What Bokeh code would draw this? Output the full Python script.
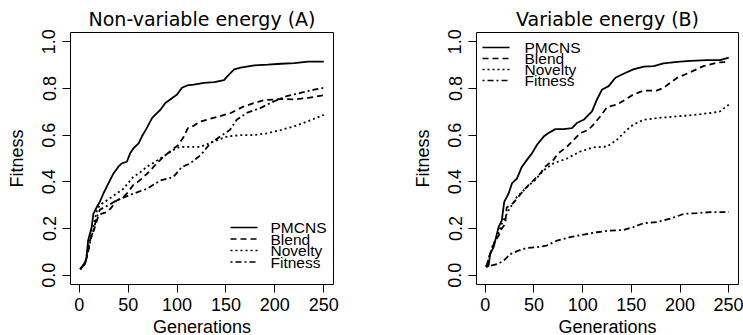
from bokeh.plotting import figure
from bokeh.layouts import row
from bokeh.models import FixedTicker, PrintfTickFormatter, Range1d, Arrow, Label
from bokeh.embed import file_html
from bokeh.resources import INLINE

# ---------------- data: panel A (non-variable energy) ----------------
a_pmcns_x = [1, 6, 7.5, 9, 12.7, 14.4, 18, 21, 24.7, 28, 31.5, 35, 40, 43.5, 48.7, 52, 55.5, 60.7, 64, 69,
             74.4, 77.8, 83, 88, 93, 100, 105, 110.4, 117, 127.6, 138, 148, 151.6, 158.4, 165, 179, 192.7,
             206.4, 220, 234, 250]
a_pmcns_y = [0.026, 0.055, 0.076, 0.148, 0.206, 0.263, 0.292, 0.314, 0.35, 0.378, 0.407, 0.436, 0.465, 0.479,
             0.486, 0.522, 0.544, 0.565, 0.594, 0.63, 0.673, 0.688, 0.709, 0.738, 0.753, 0.774, 0.803, 0.813,
             0.817, 0.824, 0.827, 0.836, 0.853, 0.882, 0.889, 0.899, 0.902, 0.906, 0.909, 0.915, 0.915]

a_blend_x = [1, 6, 9, 11, 14, 17, 20, 24, 28, 33, 38, 44, 50, 55, 60, 65.6, 70.7, 79, 86, 94.6, 101, 107, 111,
             117, 124, 141, 155, 167, 179, 189, 206, 220, 234, 250]
a_blend_y = [0.026, 0.05, 0.1, 0.15, 0.18, 0.22, 0.26, 0.265, 0.27, 0.29, 0.32, 0.33, 0.356, 0.385, 0.4, 0.42,
             0.44, 0.478, 0.507, 0.536, 0.557, 0.594, 0.63, 0.64, 0.659, 0.678, 0.695, 0.721, 0.738, 0.75,
             0.755, 0.753, 0.76, 0.771]

a_novelty_x = [1, 6, 9, 12, 15, 18, 21, 28, 38, 45, 55, 62, 69, 83, 96, 103, 110, 124, 137, 151, 165, 178,
               192, 206, 219, 233, 250]
a_novelty_y = [0.026, 0.05, 0.12, 0.18, 0.22, 0.278, 0.3, 0.32, 0.349, 0.37, 0.42, 0.44, 0.464, 0.5, 0.536,
               0.55, 0.55, 0.55, 0.572, 0.594, 0.6, 0.6, 0.608, 0.622, 0.637, 0.658, 0.687]

a_fitness_x = [1, 6, 9, 12, 15, 18, 21, 25, 30, 38, 55, 69, 83, 96, 105, 113, 124, 134, 144, 154, 161, 171,
               185, 199, 212, 226, 240, 250]
a_fitness_y = [0.026, 0.05, 0.1, 0.16, 0.2, 0.25, 0.28, 0.29, 0.3, 0.32, 0.349, 0.37, 0.406, 0.42, 0.464,
               0.478, 0.514, 0.565, 0.594, 0.622, 0.666, 0.695, 0.716, 0.745, 0.767, 0.781, 0.795, 0.803]

# ---------------- data: panel B (variable energy) ----------------
b_pmcns_x = [1, 3.4, 5, 8.6, 12, 13.7, 17, 19.5, 24, 27.4, 32.5, 37.7, 42.8, 48, 53, 60, 65, 72, 80.5, 89, 94,
             101, 109.6, 114.7, 120, 126.7, 133.6, 142, 152, 162.7, 173, 183, 197, 210.6, 227.7, 241, 250]
b_pmcns_y = [0.036, 0.04, 0.09, 0.12, 0.177, 0.206, 0.235, 0.314, 0.35, 0.393, 0.414, 0.465, 0.494, 0.522,
             0.558, 0.594, 0.609, 0.626, 0.626, 0.63, 0.652, 0.666, 0.702, 0.753, 0.796, 0.81, 0.846, 0.863,
             0.882, 0.894, 0.896, 0.908, 0.914, 0.918, 0.922, 0.922, 0.932]

b_blend_x = [1, 5, 10, 14, 17, 20.5, 22, 29, 32.5, 41, 48, 56.5, 61.6, 70, 75, 84, 90.8, 97.6, 106, 111, 118,
             125, 135, 144, 152, 162.7, 176, 183, 197, 210.6, 224, 238, 250]
b_blend_y = [0.036, 0.09, 0.148, 0.17, 0.2, 0.22, 0.29, 0.31, 0.328, 0.371, 0.4, 0.436, 0.465, 0.494, 0.522,
             0.551, 0.58, 0.609, 0.623, 0.645, 0.68, 0.72, 0.731, 0.753, 0.774, 0.791, 0.791, 0.803, 0.846,
             0.87, 0.896, 0.911, 0.914]

b_novelty_x = [1, 7, 12, 17, 24, 32.5, 43, 51, 60, 70, 84, 97.6, 111, 125, 135, 145.5, 152, 162.7, 176, 190,
               204, 217, 231, 241, 250]
b_novelty_y = [0.036, 0.12, 0.163, 0.22, 0.278, 0.335, 0.378, 0.407, 0.45, 0.479, 0.5, 0.53, 0.548, 0.551,
               0.58, 0.623, 0.645, 0.666, 0.673, 0.678, 0.683, 0.688, 0.695, 0.702, 0.731]

b_fitness_x = [1, 5, 12, 19, 25.7, 34, 43, 53, 63, 73.6, 87, 101, 114.7, 128, 142, 152, 162.7, 176, 190, 204,
               217, 231, 250]
b_fitness_y = [0.036, 0.04, 0.047, 0.062, 0.09, 0.105, 0.117, 0.12, 0.127, 0.148, 0.163, 0.174, 0.184, 0.191,
               0.194, 0.206, 0.223, 0.227, 0.242, 0.263, 0.266, 0.27, 0.27]

series_names = ["PMCNS", "Blend", "Novelty", "Fitness"]
x_ticks = [0, 50, 100, 150, 200, 250]
y_ticks = [0.0, 0.2, 0.4, 0.6, 0.8, 1.0]

DASHES = {"PMCNS": "solid", "Blend": "6 4", "Novelty": "2 3", "Fitness": "2 3 6 3"}
LABEL_FONT = "Liberation Sans"

X_LO, X_HI = 1 - 0.04 * 249, 250 + 0.04 * 249
Y_LO, Y_HI = -0.04, 1.04
FRAME_H = 252


def make_panel(title, data, width, border_left, border_right, leg_px):
    frame_w = width - border_left - border_right
    p = figure(width=width, height=335, output_backend="svg", toolbar_location=None,
               x_range=Range1d(X_LO, X_HI), y_range=Range1d(Y_LO, Y_HI),
               min_border_left=border_left, min_border_right=border_right,
               min_border_top=32, min_border_bottom=51,
               frame_width=frame_w, frame_height=FRAME_H)
    p.title.text = title
    p.title.text_font = "DejaVu Sans"
    p.title.text_font_size = "19px"
    p.title.text_font_style = "normal"
    p.title.text_color = "black"
    p.title.align = "center"
    p.title.standoff = 5
    p.outline_line_color = "black"
    p.outline_line_width = 1
    p.grid.visible = False
    p.background_fill_color = "white"
    p.border_fill_color = "white"

    for ax in (p.xaxis[0], p.yaxis[0]):
        ax.axis_line_color = None
        ax.major_tick_line_color = "black"
        ax.minor_tick_line_color = None
        ax.major_tick_in = 0
        ax.major_tick_out = 8
        ax.major_label_text_font = LABEL_FONT
        ax.major_label_text_font_size = "18px"
        ax.major_label_text_color = "black"
        ax.axis_label_text_font = LABEL_FONT
        ax.axis_label_text_font_size = "18px"
        ax.axis_label_text_font_style = "normal"
        ax.axis_label_text_color = "black"

    p.xaxis.ticker = FixedTicker(ticks=x_ticks)
    p.yaxis.ticker = FixedTicker(ticks=y_ticks)
    p.yaxis.formatter = PrintfTickFormatter(format="%.1f")
    p.yaxis.major_label_orientation = "vertical"
    p.xaxis.axis_label = "Generations"
    p.yaxis.axis_label = "Fitness"
    p.xaxis.major_label_standoff = 5
    p.xaxis.axis_label_standoff = 3
    p.yaxis.major_label_standoff = 7
    p.yaxis.axis_label_standoff = 13

    for name, (xs, ys) in zip(series_names, data):
        p.line(xs, ys, line_color="black", line_width=1.8, line_dash=DASHES[name])

    # compact R-style legend; position given in pixels from the frame's top-left
    gx = (X_HI - X_LO) / frame_w   # data units per pixel (x)
    gy = (Y_HI - Y_LO) / FRAME_H   # data units per pixel (y)
    left, top, line_len, gap, row_h = leg_px
    for i, name in enumerate(series_names):
        yy = Y_HI - (top + i * row_h) * gy
        x0 = X_LO + left * gx
        x1 = X_LO + (left + line_len) * gx
        p.add_layout(Arrow(start=None, end=None, x_start=x0, y_start=yy, x_end=x1, y_end=yy,
                           line_color="black", line_width=1.4, line_dash=DASHES[name]))
        p.add_layout(Label(x=X_LO + (left + line_len + gap) * gx, y=yy, text=name,
                           text_font=LABEL_FONT, text_font_size="15.5px", text_color="black",
                           text_baseline="middle", text_align="left"))
    return p


p1 = make_panel("Non-variable energy (A)",
                [(a_pmcns_x, a_pmcns_y), (a_blend_x, a_blend_y), (a_novelty_x, a_novelty_y),
                 (a_fitness_x, a_fitness_y)],
                371, 70, 38, (160, 195, 27, 13, 11.5))
p2 = make_panel("Variable energy (B)",
                [(b_pmcns_x, b_pmcns_y), (b_blend_x, b_blend_y), (b_novelty_x, b_novelty_y),
                 (b_fitness_x, b_fitness_y)],
                372, 105, 5, (6, 15, 27, 15, 11))

layout = row(p1, p2, spacing=0)
open("out.html", "w").write(file_html(layout, INLINE))
